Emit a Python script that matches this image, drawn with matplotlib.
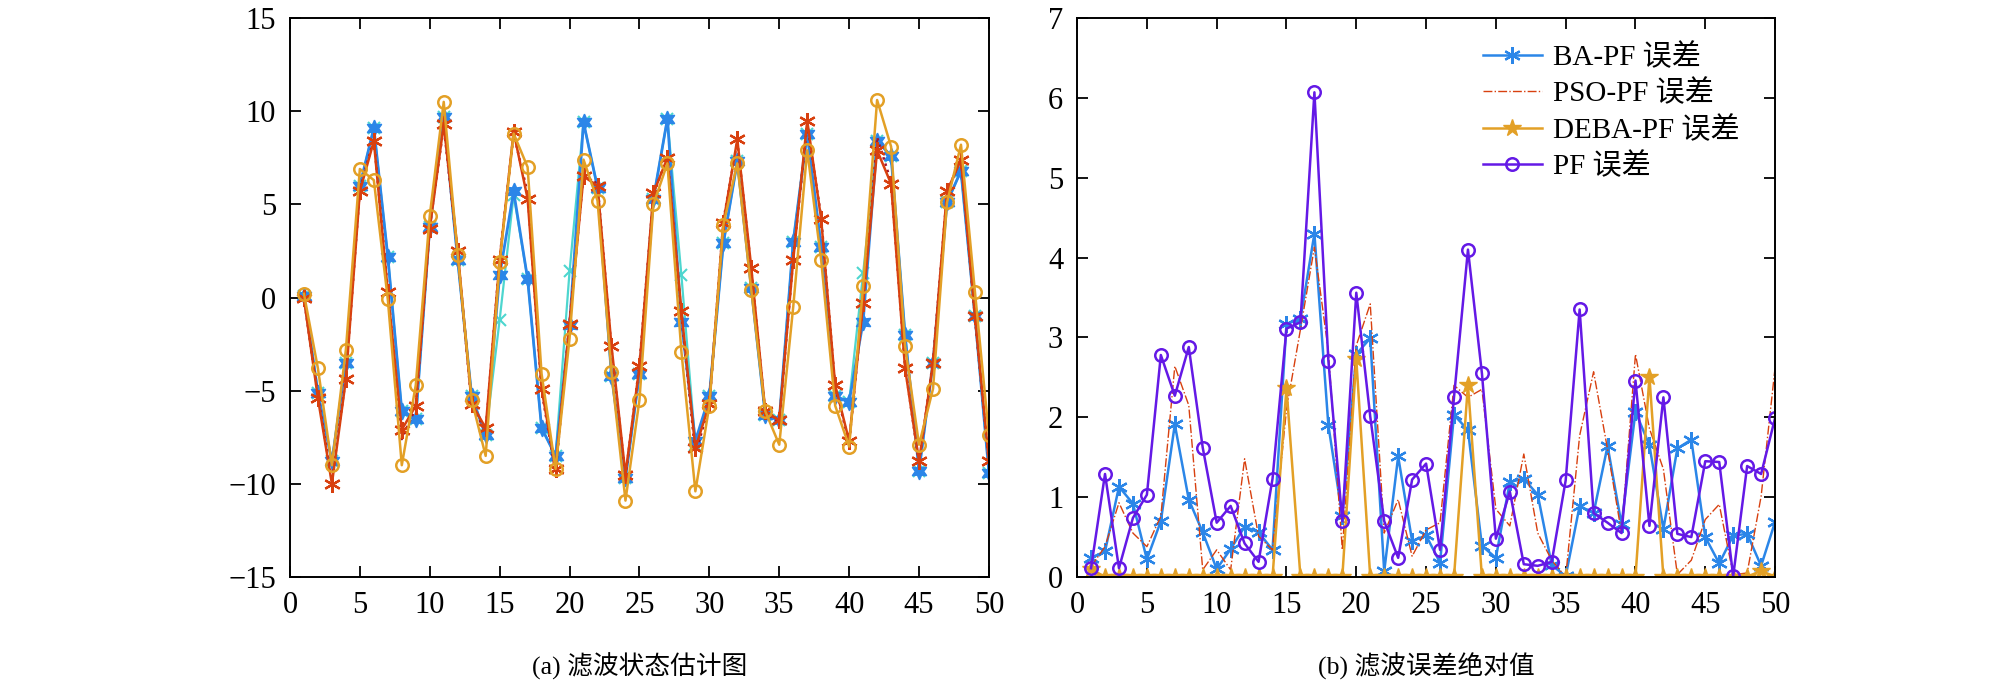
import numpy as np
import matplotlib
matplotlib.use("Agg")
import matplotlib.pyplot as plt

plt.rcParams['font.family'] = ['Liberation Serif', 'Noto Sans CJK SC']
plt.rcParams['font.size'] = 18

# time steps
k = np.arange(1, 51)

# (a) state estimates
true_state = [0.1, -5.1, -8.8, -3.5, 6.0, 9.1, 2.2, -6.1, -6.5, 3.8,
              9.7, 2.0, -5.3, -7.4, -1.2, 5.5, 1.0, -7.0, -8.5, 1.4,
              9.4, 5.9, -4.2, -9.7, -4.1, 5.3, 9.6, 1.2, -7.9, -5.3,
              2.9, 7.3, 0.5, -6.3, -6.6, 3.0, 8.8, 2.7, -5.3, -5.6,
              1.3, 8.4, 7.6, -2.0, -9.3, -3.5, 5.1, 6.8, -1.0, -9.4]
ba_est = [0.1, -5.1, -8.8, -3.5, 6.0, 9.1, 2.2, -6.1, -6.5, 3.8,
          9.7, 2.0, -5.3, -7.4, 1.2, 5.7, 1.0, -7.0, -8.5, -1.5,
          9.4, 5.9, -4.2, -9.7, -4.1, 5.3, 9.6, -1.3, -7.7, -5.3,
          2.9, 7.3, 0.5, -6.3, -6.6, 3.0, 8.8, 2.7, -5.3, -5.6,
          -1.3, 8.4, 7.6, -2.0, -9.3, -3.5, 5.1, 6.8, -1.0, -9.4]
pso_est = [-0.05, -5.4, -10.0, -4.4, 5.7, 8.4, 0.3, -7.1, -5.8, 3.7,
           9.3, 2.5, -5.7, -7.0, 2.0, 8.9, 5.3, -4.9, -9.2, -1.4,
           6.5, 6.0, -2.6, -9.5, -3.7, 5.6, 7.5, -0.7, -8.1, -5.7,
           4.0, 8.5, 1.6, -6.1, -6.6, 2.0, 9.5, 4.2, -4.7, -7.7,
           -0.3, 7.9, 6.1, -3.8, -8.8, -3.5, 5.7, 7.4, -1.0, -8.8]
deba_est = [-0.05, -5.3, -9.8, -4.3, 5.8, 8.5, 0.4, -7.6, -5.9, 3.8,
            9.2, 2.4, -5.8, -7.2, 2.1, 8.8, 5.6, -5.0, -9.4, -1.3,
            6.6, 6.1, -2.8, -9.6, -3.6, 5.5, 7.6, -0.9, -8.4, -5.8,
            4.1, 8.4, 1.5, -6.2, -6.7, 2.1, 9.3, 4.3, -4.8, -7.8,
            -0.2, 8.6, 6.2, -3.7, -8.9, -3.4, 5.6, 7.5, -1.1, -8.9]
pf_est = [0.2, -3.8, -9.0, -2.8, 6.9, 6.3, -0.1, -9.0, -4.7, 4.4,
          10.5, 2.3, -5.5, -8.5, 1.9, 8.8, 7.0, -4.1, -9.2, -2.2,
          7.4, 5.2, -4.0, -10.9, -5.5, 5.0, 7.2, -2.9, -10.4, -5.8,
          3.9, 7.2, 0.4, -6.1, -7.9, -0.5, 7.9, 2.0, -5.8, -8.0,
          0.6, 10.6, 8.1, -2.6, -7.9, -4.9, 5.1, 8.2, 0.3, -7.4]

# (b) absolute errors
ba_err = [0.24, 0.32, 1.13, 0.92, 0.22, 0.70, 1.91, 0.97, 0.56, 0.10,
          0.35, 0.63, 0.56, 0.34, 3.17, 3.23, 4.30, 1.90, 0.76, 2.79,
          2.99, 0.07, 1.51, 0.45, 0.52, 0.18, 2.03, 1.84, 0.39, 0.24,
          1.19, 1.23, 1.03, 0.15, 0.01, 0.89, 0.80, 1.64, 0.66, 2.07,
          1.65, 0.60, 1.61, 1.72, 0.50, 0.17, 0.52, 0.54, 0.14, 0.69]
pso_err = [0.13, 0.38, 0.93, 0.55, 0.38, 0.76, 2.64, 2.15, 0.09, 0.34,
           0.09, 1.48, 0.51, 0.34, 2.10, 3.10, 4.13, 2.83, 0.34, 2.90,
           3.42, 0.55, 0.97, 0.26, 0.59, 0.68, 2.40, 2.25, 2.35, 0.85,
           0.64, 1.54, 0.55, 0.21, 0.00, 1.77, 2.57, 1.60, 0.55, 2.79,
           1.86, 1.35, 0.03, 0.21, 0.72, 0.91, 0.03, 0.05, 1.01, 2.62]
deba_err = [0.10, 0, 0, 0, 0, 0, 0, 0, 0, 0,
            0, 0, 0, 0, 2.37, 0, 0, 0, 0, 2.73,
            0, 0, 0, 0, 0, 0, 0, 2.41, 0, 0,
            0, 0, 0, 0, 0, 0, 0, 0, 0, 0,
            2.51, 0, 0, 0, 0, 0, 0, 0, 0.08, 0]
pf_err = [0.11, 1.29, 0.11, 0.74, 1.03, 2.78, 2.27, 2.88, 1.62, 0.68,
          0.89, 0.42, 0.19, 1.23, 3.11, 3.19, 6.07, 2.71, 0.70, 3.56,
          2.01, 0.70, 0.24, 1.22, 1.42, 0.34, 2.25, 4.10, 2.55, 0.48,
          1.07, 0.16, 0.14, 0.19, 1.21, 3.35, 0.80, 0.68, 0.55, 2.46,
          0.64, 2.25, 0.54, 0.50, 1.45, 1.44, 0.01, 1.39, 1.29, 1.99]

labels = ['BA-PF 误差', 'PSO-PF 误差', 'DEBA-PF 误差', 'PF 误差']

c_cyan = '#4DD6CF'
c_blue = '#2B86E8'
c_red = '#D8400F'
c_dred = '#A2142F'
c_orange = '#E3A026'
c_purple = '#6419E6'
asterisk = (6, 2, 0)
hexagram = (6, 1, 0)

fig = plt.figure(figsize=(20.08, 6.83), dpi=100)
ax1 = fig.add_axes([0.1444, 0.1552, 0.3481, 0.8184])
ax2 = fig.add_axes([0.5364, 0.1552, 0.3476, 0.8184])

ax1.plot(k, true_state, '-', color=c_cyan, lw=1.6, marker='x', ms=9, mew=1.5)
ax1.plot(k, ba_est, '-', color=c_blue, lw=2.0, marker=hexagram, ms=12)
ax1.plot(k, deba_est, ':', color=c_dred, lw=1.8)
ax1.plot(k, pso_est, '-', color=c_red, lw=1.8, marker=asterisk, ms=12, mew=1.6)
ax1.plot(k, pf_est, '-', color=c_orange, lw=1.8, marker='o', ms=9,
         mfc='none', mew=1.8)
ax1.set_xlim(0, 50)
ax1.set_ylim(-15, 15)
ax1.set_xticks(np.arange(0, 51, 5))
ax1.set_yticks(np.arange(-15, 16, 5))

ax2.plot(k, ba_err, '-', color=c_blue, lw=1.8, marker=asterisk, ms=12,
         mew=1.6, label=labels[0])
ax2.plot(k, pso_err, '-.', color=c_red, lw=1.0, label=labels[1])
ax2.plot(k, deba_err, '-', color=c_orange, lw=1.8, marker='*', ms=13,
         mew=1.0, label=labels[2])
ax2.plot(k, pf_err, '-', color=c_purple, lw=1.8, marker='o', ms=9,
         mfc='none', mew=1.8, label=labels[3])
ax2.set_xlim(0, 50)
ax2.set_ylim(0, 7)
ax2.set_xticks(np.arange(0, 51, 5))
ax2.set_yticks(np.arange(0, 8, 1))
ax2.legend(loc='upper left', bbox_to_anchor=(0.582, 0.955), frameon=False,
           fontsize=21, handlelength=2.0, handletextpad=0.4,
           labelspacing=0.3, borderpad=0, borderaxespad=0)

for ax in (ax1, ax2):
    ax.tick_params(direction='in', length=8, width=1.3, top=True, right=True,
                   labelsize=22, pad=10)
    for s in ax.spines.values():
        s.set_linewidth(1.4)

fig.text(0.1444 + 0.3481 / 2, 0.025, '(a) 滤波状态估计图', ha='center',
         va='center', fontsize=18.5)
fig.text(0.5364 + 0.3476 / 2, 0.025, '(b) 滤波误差绝对值', ha='center',
         va='center', fontsize=18.5)

fig.savefig('out.png', dpi=100)
